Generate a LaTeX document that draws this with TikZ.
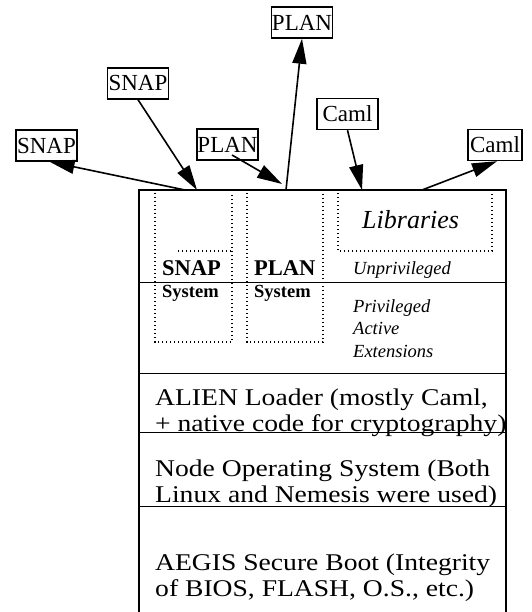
\documentclass[tikz,border=0pt]{standalone}
\usepackage{fontspec}
\setmainfont{Liberation Serif}
\newfontfamily\widefont[FakeStretch=1.15]{Liberation Serif}
\usetikzlibrary{arrows.meta}
\tikzset{
  topbox/.style={draw, line width=1.4pt, inner sep=0pt, minimum height=31pt, minimum width=61pt, font=\fontsize{23}{27}\selectfont},
  conn/.style={line width=1.6pt, -{Triangle[length=25pt,width=14pt]}},
  frame/.style={line width=1.1pt},
  divider/.style={line width=0.9pt},
  dotbox/.style={line width=1.3pt, dash pattern=on 1.3pt off 2.7pt},
  maintext/.style={anchor=base west, inner sep=0pt, font=\widefont\fontsize{24}{27}\selectfont},
  smallit/.style={anchor=base west, inner sep=0pt, font=\itshape\fontsize{18.5}{22}\selectfont},
  boldlbl/.style={anchor=base west, inner sep=0pt, font=\bfseries\fontsize{22.5}{26}\selectfont},
  boldsys/.style={anchor=base west, inner sep=0pt, font=\bfseries\fontsize{18.5}{21}\selectfont},
}
\begin{document}
\begin{tikzpicture}[x=1pt,y=-1pt]
\useasboundingbox (0,0) rectangle (531,612);
\clip (0,0) rectangle (531,612);
% main frame (open at bottom)
\draw[frame] (139,613) -- (139,190) -- (506,190) -- (506,613);
\draw[line width=1.7pt] (139,190) -- (506,190);
\draw[divider] (139,282) -- (506,282);
\draw[divider] (139,373) -- (506,373);
\draw[divider] (139,432) -- (506,432);
\draw[divider] (139,506) -- (506,506);
% dotted boxes
\draw[dotbox] (155,193) -- (155,342) -- (232,342) -- (232,193);
\draw[dotbox] (178,251) -- (232,251);
\draw[dotbox] (247,193) -- (247,342) -- (323,342) -- (323,193);
\draw[dotbox] (338,193) -- (338,251) -- (492,251) -- (492,193);
% labels in upper area
\node[anchor=base west, inner sep=0pt, font=\itshape\fontsize{26}{30}\selectfont] (lib) at (362,228) {Libraries};
\node[boldlbl] (snaps) at (162,275) {SNAP};
\node[boldsys] (snapsys) at (162,297) {System};
\node[boldlbl] (plans) at (254,275) {PLAN};
\node[boldsys] (plansys) at (254,297) {System};
\node[smallit] (unpriv) at (353,274) {Unprivileged};
\node[smallit] (priv) at (353,312) {Privileged};
\node[smallit] (act) at (353,334) {Active};
\node[smallit] (ext) at (353,357) {Extensions};
% layer texts
\node[maintext] (al1) at (155,405) {ALIEN Loader (mostly Caml,};
\node[maintext] (al2) at (155,431) {+ native code for cryptography)};
\node[maintext] (no1) at (155,476) {Node Operating System (Both};
\node[maintext] (no2) at (155,502) {Linux and Nemesis were used)};
\node[maintext] (ae1) at (155,570) {AEGIS Secure Boot (Integrity};
\node[maintext] (ae2) at (155,596) {of BIOS, FLASH, O.S., etc.)};
% top boxes
\node[topbox] (planT) at (302,22.5) {PLAN};
\node[topbox] (snapU) at (138,83.5) {SNAP};
\node[topbox] (camlU) at (347.5,114) {Caml};
\node[topbox] (snapL) at (46.5,145.5) {SNAP};
\node[topbox] (planL) at (227.5,144.5) {PLAN};
\node[topbox, minimum width=54pt] (camlR) at (495,145) {Caml};
% connector end points on the frame top
\coordinate (c1) at (185,190);
\coordinate (c2) at (197,190);
\coordinate (c3) at (282,184);
\coordinate (c4) at (286,190);
\coordinate (c5) at (362,190);
\coordinate (c6) at (422,190);
\coordinate (p3) at (232,155);
% connectors
\draw[conn] (c1) -- ([xshift=3pt]snapL.south);
\draw[conn] (snapU.south) -- (c2);
\draw[conn] (p3) -- (c3);
\draw[conn] (c4) -- (planT.south);
\draw[conn] (camlU.south) -- (c5);
\draw[conn] (c6) -- ([xshift=2pt]camlR.south);
\end{tikzpicture}
\end{document}
